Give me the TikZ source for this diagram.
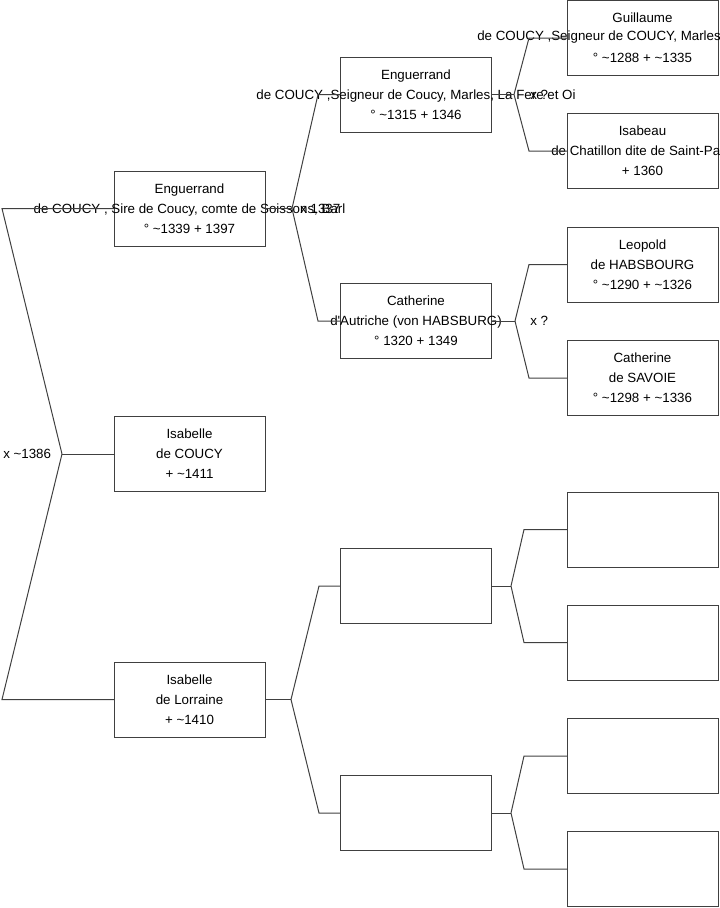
\documentclass[tikz,border=0pt]{standalone}
\usepackage{fontspec}
\setmainfont{Liberation Sans}
\begin{document}
\begin{tikzpicture}[x=0.75pt,y=-0.75pt,
  box/.style={draw=black!75, line width=0.75pt, minimum width=113.25pt, minimum height=56.25pt, inner sep=0pt, outer sep=0pt},
  txt/.style={align=center, font=\fontsize{10}{15}\selectfont, inner sep=0pt},
  lbl/.style={anchor=west, font=\fontsize{10}{15}\selectfont, inner sep=0pt},
  link/.style={draw=black!75, line width=0.75pt}]
\useasboundingbox (0,0) rectangle (719,908);

% level 1
\node[box] (E7) at (189.5,208.5) {};
\node[box] (IC) at (189.5,454) {};
\node[box] (IL) at (189.5,699.5) {};
% level 2
\node[box] (E6) at (416,94.5) {};
\node[box] (CA) at (416,321) {};
\node[box] (X1) at (416,586) {};
\node[box] (X2) at (416,813) {};
% level 3
\node[box] (G)  at (642.5,38) {};
\node[box] (IS) at (642.5,151) {};
\node[box] (LH) at (642.5,264.5) {};
\node[box] (CS) at (642.5,378) {};
\node[box] (Y1) at (642.5,529.5) {};
\node[box] (Y2) at (642.5,642.5) {};
\node[box] (Y3) at (642.5,756) {};
\node[box] (Y4) at (642.5,869) {};

% texts
\node[txt] (tE7) at (E7.center) {Enguerrand\\de COUCY , Sire de Coucy, comte de Soissons, Barl\\° \textasciitilde1339 + 1397};
\node[txt] (tIC) at (IC.center) {Isabelle\\de COUCY\\+ \textasciitilde1411};
\node[txt] (tIL) at (IL.center) {Isabelle\\de Lorraine\\+ \textasciitilde1410};
\node[txt] (tE6) at (E6.center) {Enguerrand\\de COUCY ,Seigneur de Coucy, Marles, La Fere et Oi\\° \textasciitilde1315 + 1346};
\node[txt] (tCA) at (CA.center) {Catherine\\d\textquotesingle Autriche (von HABSBURG)\\° 1320 + 1349};
\node[txt] (tG)  at (G.center) {Guillaume\\\strut\\° \textasciitilde1288 + \textasciitilde1335};
\node[lbl] (tG2) at (477,37.5) {de COUCY ,Seigneur de COUCY, Marles};
\node[txt] (tIS) at (IS.center) {Isabeau\\\strut\\+ 1360};
\node[lbl] (tIS2) at (551,150.5) {de Chatillon dite de Saint-Pa};
\node[txt] (tLH) at (LH.center) {Leopold\\de HABSBOURG\\° \textasciitilde1290 + \textasciitilde1326};
\node[txt] (tCS) at (CS.center) {Catherine\\de SAVOIE\\° \textasciitilde1298 + \textasciitilde1336};

% forks
\coordinate (r0) at (2,0);
\coordinate (f0) at (62,454);
\coordinate (f1) at (292,208.5);
\coordinate (c1) at (318,0);
\coordinate (f2) at (291,699.5);
\coordinate (c2) at (319,0);
\coordinate (f3) at (514,94.5);
\coordinate (f4) at (515,321);
\coordinate (c34) at (529,0);
\coordinate (f5) at (511,586);
\coordinate (f6) at (511,813);
\coordinate (c56) at (524,0);

% root
\draw[link] (IC.west) -- (f0);
\draw[link] (E7.west) -- (r0 |- E7.west) -- (f0);
\draw[link] (IL.west) -- (r0 |- IL.west) -- (f0);
% level 1 -> 2
\draw[link] (E7.east) -- (f1);
\draw[link] (f1) -- (c1 |- E6.west) -- (E6.west);
\draw[link] (f1) -- (c1 |- CA.west) -- (CA.west);
\draw[link] (IL.east) -- (f2);
\draw[link] (f2) -- (c2 |- X1.west) -- (X1.west);
\draw[link] (f2) -- (c2 |- X2.west) -- (X2.west);
% level 2 -> 3
\draw[link] (E6.east) -- (f3);
\draw[link] (f3) -- (c34 |- G.west) -- (G.west);
\draw[link] (f3) -- (c34 |- IS.west) -- (IS.west);
\draw[link] (CA.east) -- (f4);
\draw[link] (f4) -- (c34 |- LH.west) -- (LH.west);
\draw[link] (f4) -- (c34 |- CS.west) -- (CS.west);
\draw[link] (X1.east) -- (f5);
\draw[link] (f5) -- (c56 |- Y1.west) -- (Y1.west);
\draw[link] (f5) -- (c56 |- Y2.west) -- (Y2.west);
\draw[link] (X2.east) -- (f6);
\draw[link] (f6) -- (c56 |- Y3.west) -- (Y3.west);
\draw[link] (f6) -- (c56 |- Y4.west) -- (Y4.west);

% marriage labels
\node[lbl] (m0) at (3,454) {x \textasciitilde1386};
\node[lbl] (m1) at (300,208.5) {x 1337};
\node[lbl] (m3) at (530,94.5) {x ?};
\node[lbl] (m4) at (530,321) {x ?};
\end{tikzpicture}
\end{document}
